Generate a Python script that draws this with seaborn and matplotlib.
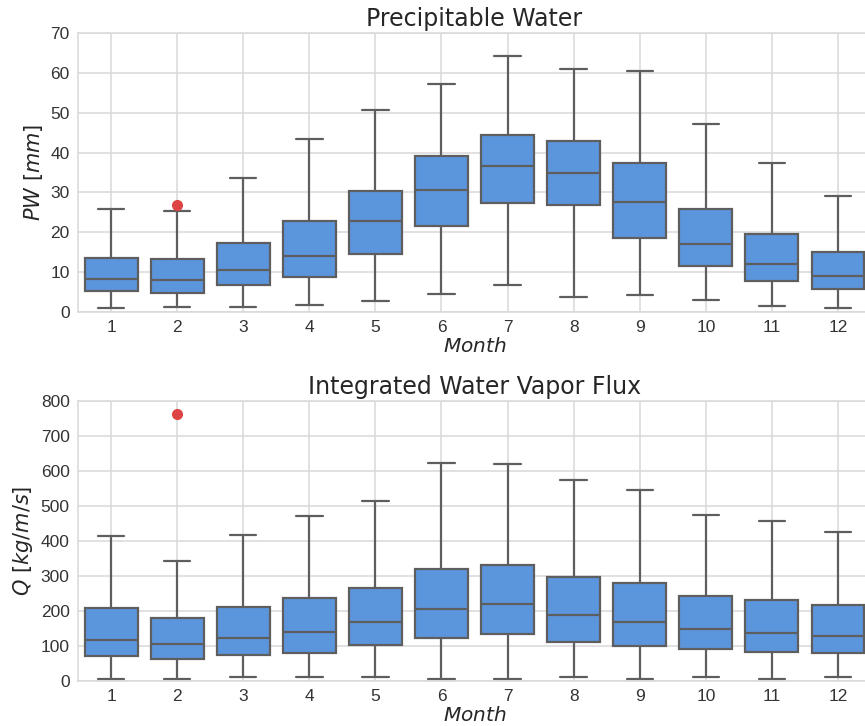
import numpy as np
import pandas as pd
import matplotlib
matplotlib.use("Agg")
import matplotlib.pyplot as plt
import seaborn as sns

months = [1, 2, 3, 4, 5, 6, 7, 8, 9, 10, 11, 12]

# Precipitable water [mm] box statistics
pw_low = [1.0, 1.3, 1.3, 1.7, 2.8, 4.6, 6.9, 3.7, 4.3, 3.0, 1.6, 1.0]
pw_q1 = [5.2, 4.8, 6.7, 8.8, 14.6, 21.7, 27.4, 26.8, 18.7, 11.6, 7.8, 5.9]
pw_med = [8.4, 8.1, 10.6, 14.0, 22.8, 30.6, 36.7, 34.9, 27.7, 17.0, 12.0, 9.0]
pw_q3 = [13.5, 13.2, 17.3, 22.8, 30.4, 39.1, 44.3, 42.9, 37.5, 25.8, 19.6, 15.1]
pw_high = [25.9, 25.4, 33.6, 43.5, 50.6, 57.1, 64.2, 61.0, 60.5, 47.3, 37.5, 29.2]
pw_outliers = {2: [26.9]}

# Integrated water vapor flux [kg/m/s] box statistics
q_low = [6, 6, 10, 10, 10, 6, 6, 10, 6, 10, 6, 10]
q_q1 = [70, 64, 74, 80, 104, 122, 133, 111, 100, 91, 84, 80]
q_med = [118, 107, 122, 141, 168, 205, 219, 188, 168, 149, 137, 128]
q_q3 = [208, 179, 211, 236, 265, 320, 330, 297, 280, 243, 232, 218]
q_high = [415, 344, 418, 470, 513, 624, 620, 574, 547, 473, 458, 425]
q_outliers = {2: [762]}


def build_frame(low, q1, med, q3, high, outliers, k=20):
    rows = []
    for i, m in enumerate(months):
        vals = [low[i]] + [q1[i]] * k + [med[i]] * k + [q3[i]] * k + [high[i]]
        vals += outliers.get(m, [])
        rows += [(str(m), v) for v in vals]
    return pd.DataFrame(rows, columns=["Month", "Value"])


pw_df = build_frame(pw_low, pw_q1, pw_med, pw_q3, pw_high, pw_outliers)
q_df = build_frame(q_low, q_q1, q_med, q_q3, q_high, q_outliers)

sns.set_theme(style="whitegrid")
plt.rcParams["font.family"] = ["Liberation Sans", "DejaVu Sans"]
plt.rcParams["mathtext.fontset"] = "dejavusans"

fig = plt.figure(figsize=(8.65, 7.26), dpi=100)
ax1 = fig.add_axes([0.0902, 0.5702, 0.9168, 0.3843])
ax2 = fig.add_axes([0.0902, 0.0620, 0.9168, 0.3857])

box_color = "#5b96dd"
line_color = "#5e5e5e"
flier = dict(marker="o", markerfacecolor="#dd4545", markeredgecolor="#dd4545",
             markersize=7)

for ax, df, title, ylabel, ylim, yticks in [
    (ax1, pw_df, "Precipitable Water", r"$PW\ [mm]$", (0, 70), np.arange(0, 71, 10)),
    (ax2, q_df, "Integrated Water Vapor Flux", r"$Q\ [kg/m/s]$", (0, 800), np.arange(0, 801, 100)),
]:
    sns.boxplot(data=df, x="Month", y="Value", order=[str(m) for m in months],
                color=box_color, saturation=1, linecolor=line_color, linewidth=1.6,
                width=0.8, whis=1.6, flierprops=flier, ax=ax)
    ax.set_ylim(*ylim)
    ax.set_yticks(yticks)
    ax.set_xlim(-0.5, 11.5)
    ax.set_title(title, fontsize=17, family="DejaVu Sans", color="#262626", pad=5)
    ax.set_xlabel(r"$Month$", fontsize=14.5, color="#262626", labelpad=1)
    ax.set_ylabel(ylabel, fontsize=15, color="#262626", labelpad=4)
    ax.tick_params(axis="both", labelsize=12.5, colors="#333333", length=0)
    ax.tick_params(axis="x", pad=6)
    ax.tick_params(axis="y", pad=6)
    ax.grid(True, color="#d9d9d9", linewidth=1.1)
    for s in ax.spines.values():
        s.set_color("#d9d9d9")
        s.set_linewidth(1.1)

fig.savefig("out.png", dpi=100)
